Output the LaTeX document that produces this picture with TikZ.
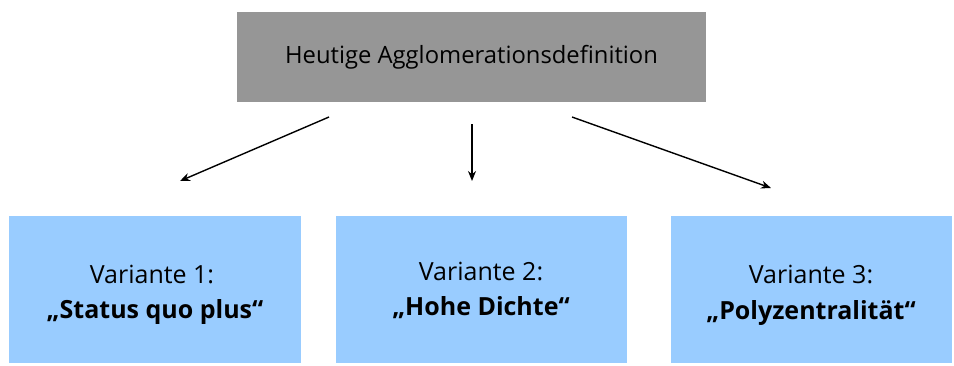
\documentclass[tikz,border=0pt]{standalone}
\usepackage{fontspec}
\setmainfont{Open Sans}
\usetikzlibrary{arrows.meta}
\definecolor{headgray}{HTML}{969696}
\definecolor{varblue}{HTML}{99CCFF}
\tikzset{
  headbox/.style={fill=headgray, draw=none, minimum width=469pt, minimum height=90pt, inner sep=0pt, font=\fontsize{23.8}{28}\selectfont},
  varbox/.style={fill=varblue, draw=none, minimum height=147pt, inner sep=0pt},
  vartitle/.style={anchor=base, inner sep=0pt, font=\fontsize{25}{30}\selectfont},
  varname/.style={anchor=base, inner sep=0pt, font=\fontsize{25}{30}\selectfont\bfseries},
  link/.style={line width=1.4pt, -{Stealth[length=10pt,width=8pt]}}
}
\begin{document}
\begin{tikzpicture}[x=1pt,y=-1pt]
  \useasboundingbox (0,0) rectangle (954,365);
  \node[headbox] (head) at (471.5,57) {Heutige Agglomerationsdefinition};
  \node[varbox, minimum width=292pt] (v1) at (155,289.5) {};
  \node[varbox, minimum width=291pt] (v2) at (481.5,289.5) {};
  \node[varbox, minimum width=281pt] (v3) at (811.5,289.5) {};
  % two text lines per variant box
  \node[vartitle] (v1a) at (152,283) {Variante 1:};
  \node[varname]  (v1b) at (155,318) {„Status quo plus“};
  \node[vartitle] (v2a) at (481,280) {Variante 2:};
  \node[varname]  (v2b) at (481,315) {„Hohe Dichte“};
  \node[vartitle] (v3a) at (811,283) {Variante 3:};
  \node[varname]  (v3b) at (811,319) {„Polyzentralität“};
  % arrow end points, kept clear of the boxes
  \coordinate (s1) at (329,117);
  \coordinate (e1) at (180,181);
  \coordinate (s2) at (472,124);
  \coordinate (e2) at (472,181);
  \coordinate (s3) at (572,117);
  \coordinate (e3) at (771,188);
  \draw[link] (s1) -- (e1);
  \draw[link] (s2) -- (e2);
  \draw[link] (s3) -- (e3);
\end{tikzpicture}
\end{document}
